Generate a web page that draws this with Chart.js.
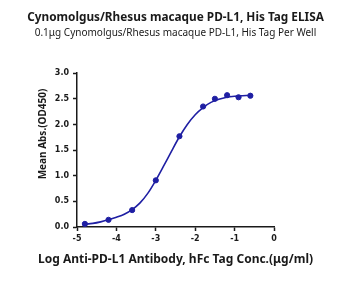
<!DOCTYPE html>
<html>
<head>
<meta charset="utf-8">
<script src="https://cdn.jsdelivr.net/npm/chart.js@4.4.1/dist/chart.umd.min.js"></script>
<style>
  html, body { margin: 0; padding: 0; background: #fff; }
  #wrap { width: 357px; height: 281px; }
</style>
</head>
<body>
<div id="wrap"><canvas id="chart" width="357" height="281"></canvas></div>
<script>
// measured points (log conc, OD450)
const logConc = [-4.80, -4.20, -3.60, -3.00, -2.40, -1.80, -1.50, -1.19, -0.90, -0.60];
const meanAbs = [0.06, 0.14, 0.33, 0.91, 1.77, 2.35, 2.50, 2.57, 2.53, 2.56];

// fitted curve
const fitX = [-4.82, -4.6, -4.4, -4.2, -4.0, -3.8, -3.6, -3.4, -3.2, -3.0, -2.8, -2.6, -2.4, -2.2, -2.0, -1.8, -1.6, -1.4, -1.2, -1.0, -0.8, -0.6];
const fitY = [0.05, 0.07, 0.10, 0.14, 0.19, 0.25, 0.34, 0.47, 0.66, 0.91, 1.19, 1.48, 1.76, 2.00, 2.19, 2.33, 2.43, 2.49, 2.53, 2.55, 2.56, 2.57];

const xTicks = [-5, -4, -3, -2, -1, 0];
const yTicks = [0, 0.5, 1.0, 1.5, 2.0, 2.5, 3.0];

const BLUE = '#1f1fa3';
const INK = '#1a1a1a';

// axis titles drawn by hand: chart.js squeezes the x title to the plot width
// and the y title sits above the axis middle in the original
const axisTitles = {
  id: 'axisTitles',
  afterDraw(chart) {
    const ctx = chart.ctx;
    const a = chart.chartArea;
    ctx.save();
    ctx.fillStyle = INK;
    ctx.textAlign = 'center';
    ctx.textBaseline = 'middle';
    ctx.font = 'bold 12px "Noto Sans"';
    ctx.fillText('Log Anti-PD-L1 Antibody, hFc Tag Conc.(μg/ml)', (a.left + a.right) / 2, 260);
    ctx.translate(43, 134);
    ctx.rotate(-Math.PI / 2);
    ctx.font = 'bold 10px "Noto Sans"';
    ctx.fillText('Mean Abs.(OD450)', 0, 0);
    ctx.restore();
  }
};

new Chart(document.getElementById('chart').getContext('2d'), {
  type: 'scatter',
  data: {
    datasets: [
      {
        label: 'fit',
        data: fitX.map((x, i) => ({ x, y: fitY[i] })),
        showLine: true,
        borderColor: BLUE,
        borderWidth: 1.6,
        pointRadius: 0,
        cubicInterpolationMode: 'monotone'
      },
      {
        label: 'data',
        data: logConc.map((x, i) => ({ x, y: meanAbs[i] })),
        showLine: false,
        backgroundColor: BLUE,
        borderColor: BLUE,
        pointRadius: 2.6
      }
    ]
  },
  plugins: [axisTitles],
  options: {
    responsive: false,
    animation: false,
    layout: { padding: { left: 0, right: 6, top: 0, bottom: 0 } },
    plugins: {
      legend: { display: false },
      tooltip: { enabled: false },
      title: {
        display: true,
        text: 'Cynomolgus/Rhesus macaque PD-L1, His Tag ELISA',
        color: INK,
        font: { family: 'Noto Sans', size: 11.8, weight: 'bold' },
        padding: { top: 11, bottom: 2 }
      },
      subtitle: {
        display: true,
        text: '0.1μg Cynomolgus/Rhesus macaque PD-L1, His Tag Per Well',
        color: INK,
        font: { family: 'Noto Sans', size: 10 },
        padding: { bottom: 34 }
      }
    },
    scales: {
      x: {
        type: 'linear',
        min: -5,
        max: 0,
        afterBuildTicks: s => { s.ticks = xTicks.map(v => ({ value: v })); },
        afterFit: s => { s.height = 54; },
        ticks: { color: INK, font: { family: 'DejaVu Sans', size: 8, weight: 'bold' }, padding: 3 },
        grid: { drawOnChartArea: false, drawTicks: true, tickLength: 4, tickColor: INK, tickWidth: 1.5 },
        border: { display: true, color: INK, width: 1.5 }
      },
      y: {
        min: 0,
        max: 3,
        afterBuildTicks: s => { s.ticks = yTicks.map(v => ({ value: v })); },
        afterFit: s => { s.width = 77; },
        ticks: { color: INK, font: { family: 'DejaVu Sans', size: 8, weight: 'bold' }, padding: 4, callback: v => v.toFixed(1) },
        grid: { drawOnChartArea: false, drawTicks: true, tickLength: 4, tickColor: INK, tickWidth: 1.5 },
        border: { display: true, color: INK, width: 1.5 }
      },
      // empty right-hand box, keeps the plot narrow without shifting the title
      spacer: {
        position: 'right',
        min: 0,
        max: 1,
        afterFit: s => { s.width = 77; },
        ticks: { display: false },
        grid: { display: false },
        border: { display: false }
      }
    }
  }
});
</script>
</body>
</html>
